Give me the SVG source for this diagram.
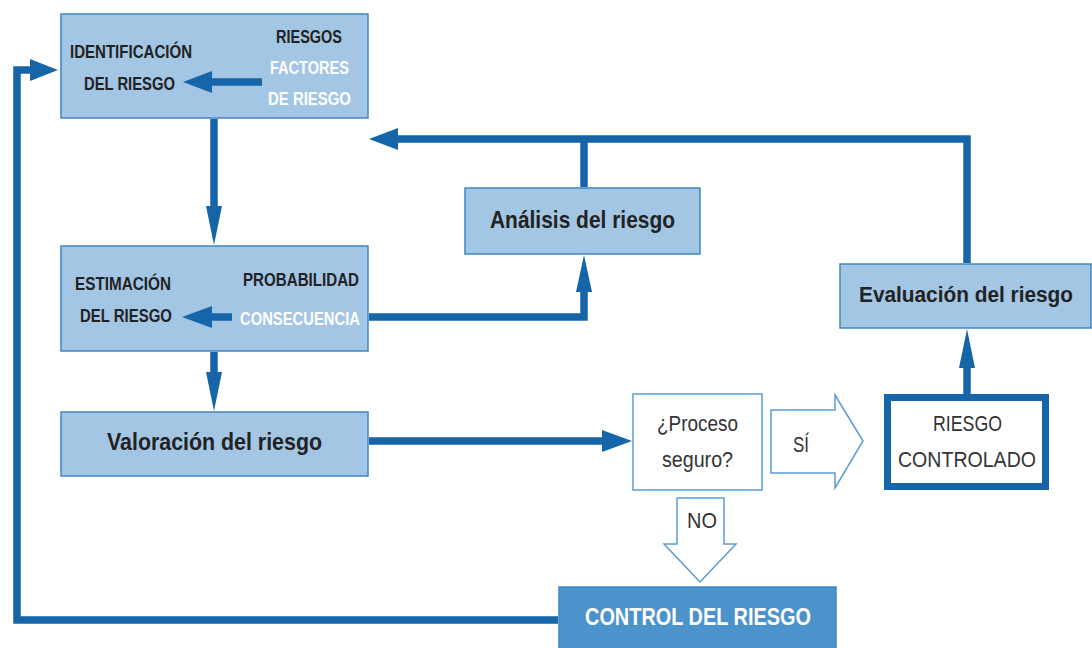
<svg xmlns="http://www.w3.org/2000/svg" width="1092" height="648" viewBox="0 0 1092 648">
<style>
.box{fill:#a3c6e4;stroke:#3f86c4;stroke-width:1.5}
.cap{font-family:"Liberation Sans",Arial,sans-serif;font-weight:bold;font-size:18px;fill:#222}
.capw{font-family:"Liberation Sans",Arial,sans-serif;font-weight:bold;font-size:18px;fill:#ffffff}
.big{font-family:"Liberation Sans",Arial,sans-serif;font-weight:bold;font-size:24px;fill:#222}
.reg{font-family:"Liberation Sans",Arial,sans-serif;font-size:22px;fill:#333}
.ln{fill:none;stroke:#1565a8;stroke-width:7.5}
.hd{fill:#1565a8}
.hollow{fill:#ffffff;stroke:#5b9bd5;stroke-width:1.5}
</style>
<rect width="1092" height="648" fill="#ffffff"/>
<g id="identificacion">
<rect class="box" x="61" y="14" width="307" height="104"/>
<text class="cap" x="70" y="58" textLength="122" lengthAdjust="spacingAndGlyphs">IDENTIFICACIÓN</text>
<text class="cap" x="84" y="90" textLength="91" lengthAdjust="spacingAndGlyphs">DEL RIESGO</text>
<text class="cap" x="276" y="43" textLength="66" lengthAdjust="spacingAndGlyphs">RIESGOS</text>
<text class="capw" x="270" y="74" textLength="79" lengthAdjust="spacingAndGlyphs">FACTORES</text>
<text class="capw" x="268" y="105" textLength="83" lengthAdjust="spacingAndGlyphs">DE RIESGO</text>
</g>
<g id="estimacion">
<rect class="box" x="61" y="246" width="307" height="105"/>
<text class="cap" x="75" y="290" textLength="96" lengthAdjust="spacingAndGlyphs">ESTIMACIÓN</text>
<text class="cap" x="80" y="322" textLength="92" lengthAdjust="spacingAndGlyphs">DEL RIESGO</text>
<text class="cap" x="243" y="286" textLength="116" lengthAdjust="spacingAndGlyphs">PROBABILIDAD</text>
<text class="capw" x="240" y="325" textLength="120" lengthAdjust="spacingAndGlyphs">CONSECUENCIA</text>
</g>
<g id="valoracion">
<rect class="box" x="61" y="412" width="307" height="64"/>
<text class="big" x="107" y="450" textLength="215" lengthAdjust="spacingAndGlyphs">Valoración del riesgo</text>
</g>
<g id="analisis">
<rect class="box" x="465" y="188" width="235" height="66"/>
<text class="big" x="490" y="228" textLength="185" lengthAdjust="spacingAndGlyphs">Análisis del riesgo</text>
</g>
<g id="evaluacion">
<rect class="box" x="840" y="264" width="251" height="64"/>
<text class="big" x="859" y="302" style="font-size:22px" textLength="214" lengthAdjust="spacingAndGlyphs">Evaluación del riesgo</text>
</g>
<g id="proceso">
<rect x="633" y="394" width="129" height="96" fill="#ffffff" stroke="#5b9bd5" stroke-width="1.5"/>
<text class="reg" x="657" y="431" textLength="81" lengthAdjust="spacingAndGlyphs">¿Proceso</text>
<text class="reg" x="662" y="467" textLength="71" lengthAdjust="spacingAndGlyphs">seguro?</text>
</g>
<g id="controlado">
<rect x="887.5" y="397.5" width="158" height="89" fill="#ffffff" stroke="#1565a8" stroke-width="7"/>
<text class="reg" x="933" y="431" textLength="69" lengthAdjust="spacingAndGlyphs">RIESGO</text>
<text class="reg" x="898" y="467" textLength="138" lengthAdjust="spacingAndGlyphs">CONTROLADO</text>
</g>
<g id="control">
<rect x="559" y="587" width="277" height="66" fill="#4d93cb" stroke="#3f86c4" stroke-width="1.5"/>
<text class="capw" x="585" y="625" style="font-size:24px" textLength="226" lengthAdjust="spacingAndGlyphs">CONTROL DEL RIESGO</text>
</g>
<g id="connectors">
<polyline class="ln" points="558,620 17,620 17,70 32,70"/>
<polygon class="hd" points="30,59 58,70 30,81"/>
<line class="ln" x1="214" y1="119" x2="214" y2="208"/>
<polygon class="hd" points="206,206 222,206 214,245"/>
<line class="ln" x1="214" y1="352" x2="214" y2="374"/>
<polygon class="hd" points="206,372 222,372 214,411"/>
<line class="ln" x1="369" y1="441" x2="604" y2="441"/>
<polygon class="hd" points="602,430 632,441 602,452"/>
<polyline class="ln" points="369,317 584,317 584,290"/>
<polygon class="hd" points="576,292 584,255 592,292"/>
<line class="ln" x1="262" y1="82" x2="210" y2="82"/>
<polygon class="hd" points="212,71 183,82 212,93"/>
<line class="ln" x1="232" y1="317" x2="210" y2="317"/>
<polygon class="hd" points="212,306 182,317 212,328"/>
<polyline class="ln" points="967,263 967,139 396,139"/>
<polygon class="hd" points="398,128 369,139 398,150"/>
<line class="ln" x1="584" y1="187" x2="584" y2="139"/>
<line class="ln" x1="967" y1="394" x2="967" y2="366"/>
<polygon class="hd" points="959,368 967,329 975,368"/>
<polygon class="hollow" points="771,410 835,410 835,395 863,441 835,488 835,473 771,473"/>
<polygon class="hollow" points="677,498 724,498 724,544 736,544 700,582 664,544 677,544"/>
<text class="reg" x="793" y="452" textLength="16" lengthAdjust="spacingAndGlyphs">SÍ</text>
<text class="reg" x="687" y="528" textLength="30" lengthAdjust="spacingAndGlyphs">NO</text>
</g>
</svg>
